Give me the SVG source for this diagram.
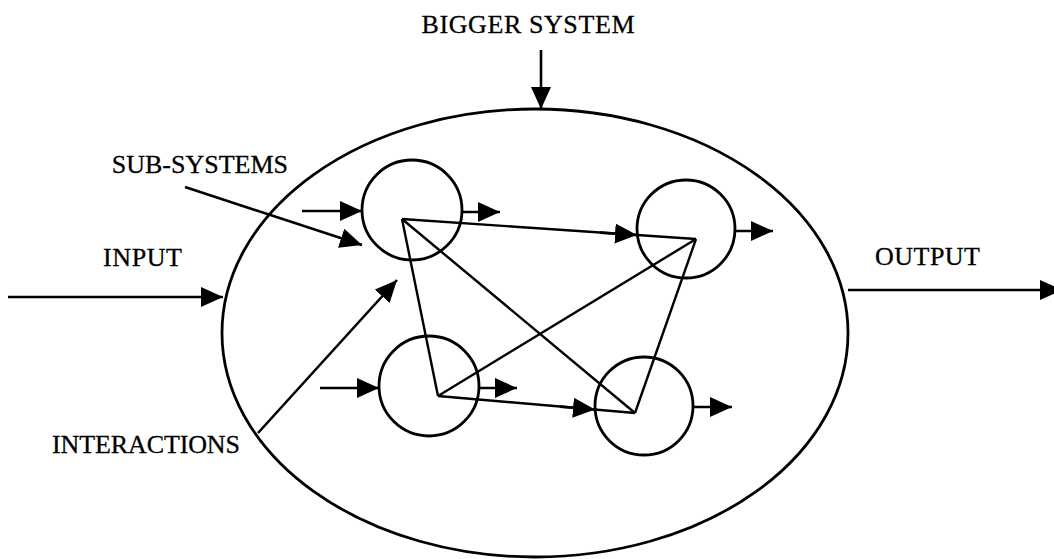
<svg xmlns="http://www.w3.org/2000/svg" width="1054" height="559" viewBox="0 0 1054 559">
  <style>
    .lbl { font-family: "Liberation Serif", "Times New Roman", serif; font-size: 26px; fill: #000; stroke: #000; stroke-width: 0.3; }
    .shape { fill: none; stroke: #000; stroke-width: 2.8; }
    .ln { fill: none; stroke: #000; stroke-width: 2.4; }
    .arr { fill: none; stroke: #000; stroke-width: 2.6; marker-end: url(#ah); }
  </style>
  <defs>
    <marker id="ah" markerUnits="userSpaceOnUse" markerWidth="22" markerHeight="20" refX="22" refY="10" orient="auto">
      <path d="M0,0 L22,10 L0,20 z" fill="#000"/>
    </marker>
  </defs>
  <rect width="1054" height="559" fill="#fff"/>

  <g id="bigger-system">
    <ellipse class="shape" cx="535" cy="333" rx="313" ry="224"/>
  </g>
  <g id="subsystem-a"><circle class="shape" cx="412" cy="210" r="50"/></g>
  <g id="subsystem-b"><circle class="shape" cx="686" cy="229" r="49"/></g>
  <g id="subsystem-c"><circle class="shape" cx="429" cy="386" r="50"/></g>
  <g id="subsystem-d"><circle class="shape" cx="644" cy="406" r="49"/></g>

  <g id="labels">
    <text class="lbl" x="528" y="33" text-anchor="middle" textLength="213">BIGGER SYSTEM</text>
    <text class="lbl" x="288" y="173" text-anchor="end">SUB-SYSTEMS</text>
    <text class="lbl" x="103" y="266" textLength="79">INPUT</text>
    <text class="lbl" x="875" y="265" textLength="105">OUTPUT</text>
    <text class="lbl" x="52" y="453" textLength="188">INTERACTIONS</text>
  </g>

  <g id="connectors">
    <!-- system level -->
    <line class="arr" x1="541" y1="50" x2="541" y2="109"/>
    <line class="arr" x1="8" y1="297" x2="223" y2="297"/>
    <line class="arr" x1="848" y1="290" x2="1062" y2="290"/>
    <!-- pointer labels -->
    <line class="arr" x1="185" y1="187" x2="362" y2="245"/>
    <line class="arr" x1="258" y1="433" x2="397" y2="280"/>
    <!-- interactions between sub-systems -->
    <line class="ln" x1="402" y1="219" x2="696" y2="239"/>
    <line class="ln" x1="402" y1="219" x2="438" y2="396"/>
    <line class="ln" x1="402" y1="219" x2="635" y2="413"/>
    <line class="ln" x1="696" y1="239" x2="438" y2="396"/>
    <line class="ln" x1="696" y1="239" x2="635" y2="413"/>
    <line class="ln" x1="438" y1="396" x2="635" y2="413"/>
    <line class="arr" x1="600" y1="232.6" x2="637" y2="235"/>
    <line class="arr" x1="560" y1="406.6" x2="595" y2="409.5"/>
    <!-- sub-system inputs / outputs -->
    <line class="arr" x1="302" y1="211" x2="362" y2="211"/>
    <line class="arr" x1="462" y1="212" x2="500" y2="212"/>
    <line class="arr" x1="735" y1="231" x2="773" y2="231"/>
    <line class="arr" x1="320" y1="388" x2="379" y2="388"/>
    <line class="arr" x1="478" y1="388" x2="517" y2="388"/>
    <line class="arr" x1="693" y1="407" x2="732" y2="407"/>
  </g>
</svg>
